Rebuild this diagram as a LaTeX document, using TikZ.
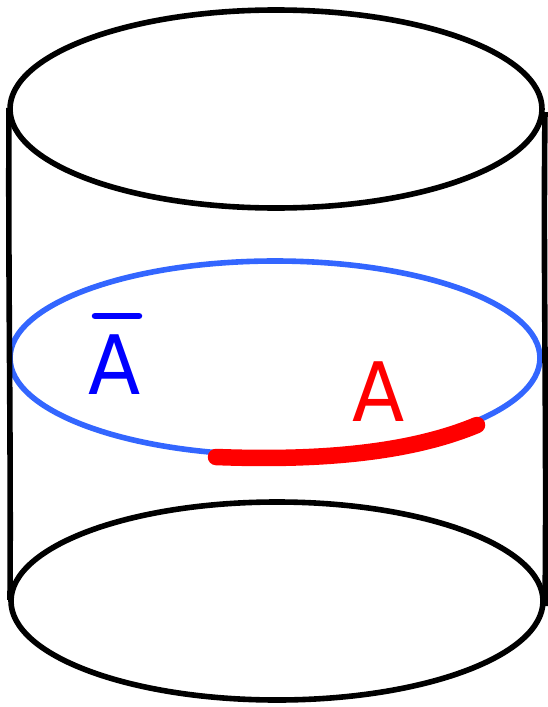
\documentclass[tikz,border=0pt]{standalone}
\usepackage{fontspec}
\setmainfont[FakeStretch=0.93]{DejaVu Sans}
\usepackage{xcolor}
\definecolor{Ring}{HTML}{3366FF}
\tikzset{
  x=1pt, y=-1pt,
  rim/.style={draw=black, line width=5.6pt},
  wall/.style={draw=black, line width=5.6pt},
  ringline/.style={draw=Ring, line width=5.6pt},
  arcline/.style={draw=red, line width=16.5pt, line cap=round},
  lbl/.style={font=\fontsize{82}{82}\selectfont, inner sep=0pt},
}
\begin{document}
\begin{tikzpicture}
  \useasboundingbox (0,0) rectangle (548,707);
  \coordinate (tl) at (9,108);
  \coordinate (tr) at (545,112);
  \coordinate (bl) at (10,600);
  \coordinate (br) at (545,606);
  \coordinate (as) at (216,457);
  \coordinate (ae) at (477,425);
  \coordinate (barl) at (95,316);
  \coordinate (barr) at (139,316);

  \draw[rim] (276,109) ellipse [x radius=266, y radius=99];
  \draw[rim] (277,601) ellipse [x radius=266, y radius=99];
  \draw[ringline] (275,358) ellipse [x radius=265, y radius=97];

  \draw[wall] (tl) .. controls (8,280) and (11,430) .. (bl);
  \draw[wall] (tr) .. controls (543,280) and (547,430) .. (br);

  \draw[arcline] (as) .. controls (320,461) and (410,453) .. (ae);

  \node[lbl, text=blue] (abar) at (115,365) {A};
  \node[lbl, text=red] (a) at (378.5,392) {A};
  \draw[draw=blue, line width=6.5pt, line cap=round] (barl) -- (barr);
\end{tikzpicture}
\end{document}
